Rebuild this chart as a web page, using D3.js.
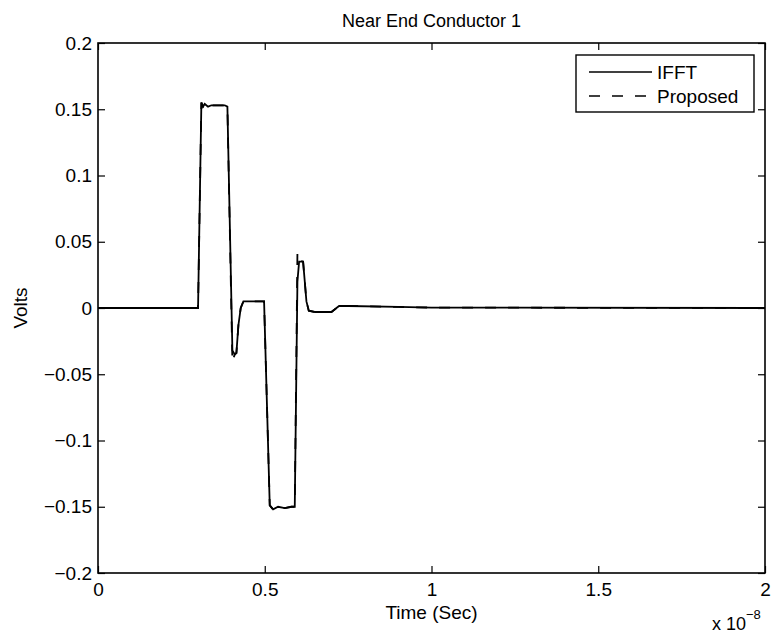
<!DOCTYPE html>
<html>
<head>
<meta charset="utf-8">
<script src="https://cdn.jsdelivr.net/npm/d3@7"></script>
<style>
  body { margin: 0; background: #fff; }
  text { font-family: "Liberation Sans", Arial, Helvetica, sans-serif; fill: #000; }
</style>
</head>
<body>
<div id="chart"></div>
<script>
// time axis in units of 1e-8 s (the axis shows the x 10^-8 multiplier)
var time = [0, 0.300, 0.310, 0.315, 0.320, 0.330, 0.340, 0.360, 0.380, 0.388,
            0.403, 0.410, 0.415, 0.421, 0.428, 0.436, 0.450, 0.498, 0.515, 0.525,
            0.540, 0.560, 0.580, 0.590, 0.598, 0.603, 0.615, 0.625, 0.632, 0.650,
            0.700, 0.715, 0.723, 0.750, 0.900, 1.000, 2.000]

var voltsIFFT = [0, 0, 0.155, 0.152, 0.154, 0.152, 0.153, 0.153, 0.153, 0.152,
                 -0.032, -0.035, -0.034, -0.013, 0.000, 0.005, 0.005, 0.005, -0.149, -0.152,
                 -0.150, -0.151, -0.150, -0.150, 0.020, 0.035, 0.035, 0.005, -0.002, -0.003,
                 -0.003, 0.000, 0.0015, 0.0015, 0.0008, 0.0003, 0]

var voltsProposed = [0, 0, 0.155, 0.152, 0.154, 0.152, 0.153, 0.153, 0.153, 0.152,
                     -0.041, -0.035, -0.034, -0.013, 0.000, 0.005, 0.005, 0.005, -0.149, -0.152,
                     -0.150, -0.151, -0.150, -0.150, 0.042, 0.036, 0.035, 0.005, -0.002, -0.003,
                     -0.003, 0.000, 0.0015, 0.0015, 0.0008, 0.0003, 0]

var xTicks = [0, 0.5, 1, 1.5, 2]
var yTicks = [-0.2, -0.15, -0.1, -0.05, 0, 0.05, 0.1, 0.15, 0.2]
var seriesNames = ["IFFT", "Proposed"]

var margin = {top: 43, right: 8, bottom: 64, left: 98}
var width = 773 - margin.left - margin.right
var height = 637 - margin.top - margin.bottom

var svg = d3.select("#chart")
    .append("svg")
    .attr("width", 773)
    .attr("height", 637)
    .append("g")
    .attr("transform", `translate(${margin.left},${margin.top})`)

var x = d3.scaleLinear().domain([0, 2]).range([0, width])
var y = d3.scaleLinear().domain([-0.2, 0.2]).range([height, 0])

var fmt = d => d === 0 ? "0" : String(+d.toFixed(2)).replace("-", "\u2212")

//axes, ticks pointing inwards like matlab
var xAxis = svg.append("g")
    .attr("transform", `translate(0,${height})`)
    .call(d3.axisBottom(x).tickValues(xTicks).tickSizeInner(-7).tickSizeOuter(0).tickPadding(10).tickFormat(fmt))
var yAxis = svg.append("g")
    .call(d3.axisLeft(y).tickValues(yTicks).tickSizeInner(-7).tickSizeOuter(0).tickPadding(6).tickFormat(fmt))
svg.append("g")
    .call(d3.axisTop(x).tickValues(xTicks).tickSizeInner(-7).tickSizeOuter(0).tickFormat(""))
svg.append("g")
    .attr("transform", `translate(${width},0)`)
    .call(d3.axisRight(y).tickValues(yTicks).tickSizeInner(-7).tickSizeOuter(0).tickFormat(""))

svg.selectAll(".domain").remove()
svg.selectAll(".tick line").attr("stroke", "#000").attr("stroke-width", 1.2)
xAxis.selectAll("text").attr("font-size", "19px").style("font-family", "Liberation Sans, Arial, sans-serif")
yAxis.selectAll("text").attr("font-size", "19px").style("font-family", "Liberation Sans, Arial, sans-serif")

//box
svg.append("rect")
    .attr("width", width)
    .attr("height", height)
    .attr("fill", "none")
    .attr("stroke", "#000")
    .attr("stroke-width", 1.6)

//lines
var line = d3.line()
    .x((d, i) => x(time[i]))
    .y(d => y(d))

svg.append("path")
    .datum(voltsIFFT)
    .attr("fill", "none")
    .attr("stroke", "#000")
    .attr("stroke-width", 1.8)
    .attr("d", line)

svg.append("path")
    .datum(voltsProposed)
    .attr("fill", "none")
    .attr("stroke", "#000")
    .attr("stroke-width", 1.8)
    .attr("stroke-dasharray", "11,12")
    .attr("d", line)

//title and labels
svg.append("text")
    .attr("x", width / 2)
    .attr("y", -16)
    .attr("text-anchor", "middle")
    .attr("font-size", "18px")
    .text("Near End Conductor 1")

svg.append("text")
    .attr("x", width / 2)
    .attr("y", height + 46)
    .attr("text-anchor", "middle")
    .attr("font-size", "19px")
    .text("Time (Sec)")

svg.append("text")
    .attr("transform", `translate(${20 - margin.left + 7},${height / 2}) rotate(-90)`)
    .attr("text-anchor", "middle")
    .attr("font-size", "19px")
    .text("Volts")

var mult = svg.append("text")
    .attr("x", width - 53)
    .attr("y", height + 57)
    .attr("font-size", "18px")
mult.append("tspan").text("x 10")
mult.append("tspan").attr("font-size", "13px").attr("dy", -11).text("\u22128")

//legend
var legend = svg.append("g").attr("transform", `translate(${width - 189},12)`)
legend.append("rect")
    .attr("width", 178)
    .attr("height", 57)
    .attr("fill", "#fff")
    .attr("stroke", "#000")
    .attr("stroke-width", 1.4)

seriesNames.forEach((name, i) => {
    var ly = 17 + i * 24
    legend.append("line")
        .attr("x1", 13).attr("x2", 76)
        .attr("y1", ly).attr("y2", ly)
        .attr("stroke", "#000")
        .attr("stroke-width", 1.5)
        .attr("stroke-dasharray", i === 1 ? "11,12" : null)
    legend.append("text")
        .attr("x", 81)
        .attr("y", ly + 7)
        .attr("font-size", "19px")
        .text(name)
})
</script>
</body>
</html>
